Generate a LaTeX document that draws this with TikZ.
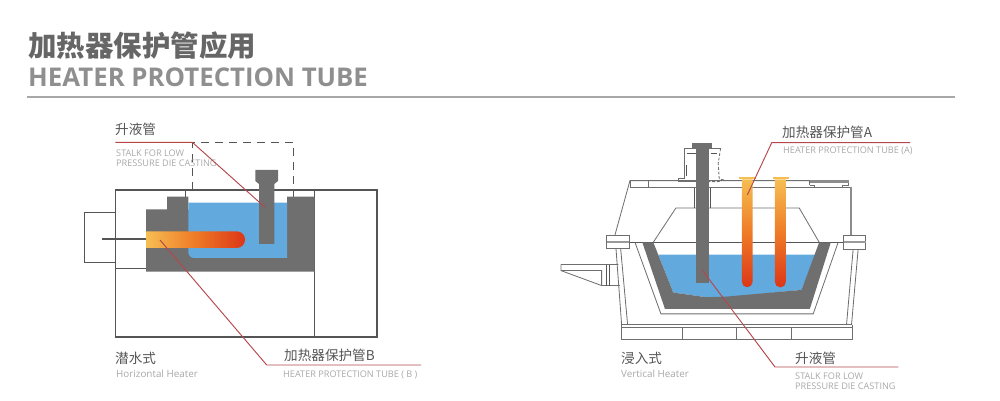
\documentclass[tikz,border=0pt]{standalone}
\usepackage{fontspec}
\setmainfont{Open Sans}
\newfontfamily\cjk{Noto Sans CJK SC}
\definecolor{ink}{HTML}{555555}
\definecolor{titleink}{HTML}{666666}
\definecolor{steel}{HTML}{6F6F6F}
\definecolor{melt}{HTML}{62A9DD}
\definecolor{leadred}{HTML}{B5474B}
\definecolor{soft}{HTML}{A8A8A8}
\definecolor{heatlow}{HTML}{F6BE52}
\definecolor{heatmid}{HTML}{EE7A26}
\definecolor{heathigh}{HTML}{DC3618}
\pgfdeclarehorizontalshading{heatb}{100bp}{color(0bp)=(heatlow); color(25bp)=(heatlow); color(50bp)=(heatmid); color(75bp)=(heathigh); color(100bp)=(heathigh)}
\pgfdeclareverticalshading{heata}{100bp}{color(0bp)=(heathigh); color(25bp)=(heathigh); color(50bp)=(heatmid); color(75bp)=(heatlow); color(100bp)=(heatlow)}
\tikzset{
    cntitle/.style={anchor=west, inner sep=0pt, text=titleink, font=\cjk\bfseries\fontsize{24.3}{26}\selectfont},
    entitle/.style={anchor=west, inner sep=0pt, text=soft!85!black, font=\bfseries\fontsize{22}{24}\selectfont},
    cnlabel/.style={anchor=west, inner sep=0pt, text=ink, font=\cjk\fontsize{11.6}{13}\selectfont},
    enlabel/.style={anchor=west, inner sep=0pt, text=soft, align=left, font=\fontsize{7.8}{8.6}\selectfont},
    hlabel/.style={anchor=west, inner sep=0pt, text=soft, font=\fontsize{8.4}{10}\selectfont},
    outline/.style={draw=ink, line width=0.9pt},
    shell/.style={draw=ink!85, line width=0.7pt},
    thinline/.style={draw=ink, line width=0.55pt},
    leader/.style={draw=leadred, line width=0.8pt}
}
\begin{document}
\begin{tikzpicture}[x=0.03cm, y=-0.03cm]
    \useasboundingbox (0,0) rectangle (1000,401);

    % Title
    \node[cntitle] (titlecn) at (28,46) {加热器保护管应用};
    \node[entitle] (titleen) at (28,77) {HEATER PROTECTION TUBE};
    \draw[soft, line width=0.9pt] (27,97) -- (955,97);

    % Horizontal heater
    \draw[outline] (115.3,190) rectangle (377,337);
    \draw[outline] (314.7,190) -- (314.7,337);
    \draw[outline] (115.3,212.3) -- (84.3,212.3) -- (84.3,262.7) -- (115.3,262.7);
    \draw[outline] (115.3,268.7) -- (146,268.7);
    \draw[outline] (185.7,190) -- (185.7,197);
    \draw[outline] (293.7,190) -- (293.7,197);
    \draw[outline, dashed, dash pattern=on 7pt off 5pt] (192.3,190) -- (192.3,142.3) -- (293.7,142.3) -- (293.7,190);
    \fill[steel] (146,209.3) -- (167,209.3) -- (167,196.7) -- (188.3,196.7) -- (188.3,210) -- (287,210)
        -- (287,196.7) -- (314.7,196.7) -- (314.7,271.7) -- (146,271.7) -- cycle;
    \fill[melt, rounded corners=5pt] (188.3,202.7) [sharp corners] -- (287,202.7) -- (287,258) [rounded corners=5pt] -- (188.3,258) -- (188.3,230) [sharp corners] -- cycle;
    \fill[steel] (255.3,170) -- (278,170) -- (278,181) -- (274.3,184) -- (274.3,244) -- (259,244) -- (259,184) -- (255.3,181) -- cycle;
    \draw[ink, line width=2pt] (102,239.3) -- (146,239.3);
    \shade[shading=heatb] (146,231.3) -- (236.7,231.3) arc[start angle=90, end angle=-90, radius=7.12pt] -- (146,248) -- cycle;

    % Vertical heater
    \begin{scope}[shift={(550,120)}, x=0.01cm, y=-0.01cm]
        \draw[shell] (33,434) -- (205,434) (33,434) -- (33,452) -- (155,452) -- (155,497) (33,452) -- (155,497) -- (210,497);
        \draw[outline] (170,434) -- (170,497) (178,434) -- (178,497);
        \draw[shell] (198,385) -- (215,615) (212,385) -- (233,615);
        \draw[shell] (925,387) -- (905,615) (910,387) -- (890,615);
        \draw[shell] (215,622) rectangle (907,658);
        \draw[shell] (215,615) -- (907,615) (215,615) -- (215,622) (907,615) -- (907,622);
        \draw[shell] (396,622) -- (396,658) (561,622) -- (561,658) (724,622) -- (724,658);
        % lid
        \draw[shell] (195,345) -- (240,182) -- (780,182);
        \draw[shell] (240,203) -- (760,203) (795,203) -- (880,203);
        \draw[shell] (240,182) -- (240,203) (295,182) -- (295,203) (780,182) -- (780,195);
        \fill[steel!80] (780,181) rectangle (897,188);
        \draw[shell] (760,203) -- (795,203) -- (795,195) -- (780,195) (878,195) -- (897,195) -- (897,188) (878,195) -- (878,203) -- (907,203);
        \fill[steel!80] (900,200) rectangle (907,347);
        \draw[shell] (310,367) -- (378,264) -- (748,264) -- (808,367);
        \draw[outline] (238,367) -- (885,367);
        \draw[thinline] (432,203) -- (432,264) (482,203) -- (482,264);
        % fitting of the stalk
        \draw[shell] (438,85) -- (404,85) -- (404,175) -- (385,175) -- (385,185) -- (438,185);
        \draw[thinline] (412,100) -- (438,100) (410,135) -- (410,168);
        \draw[shell] (476,85) -- (512,85);
        \draw[shell, dashed, dash pattern=on 2.5pt off 1.5pt] (512,85) -- (505,130) -- (508,178) -- (525,180) -- (505,185) -- (476,185);
        \draw[thinline] (482,100) -- (500,100);
        % crucible
        \draw[shell] (255,367) -- (333,582) -- (790,582) -- (865,367);
        \fill[melt] (325,404) -- (797,404) -- (755,510) -- (530,532) -- (470,532) -- (370,518) -- cycle;
        \fill[steel] (277,367) -- (345,567) -- (780,567) -- (843,367) -- (808,367) -- (755,510) -- (530,530)
            -- (470,532) -- (370,518) -- (310,367) -- cycle;
        % clamps
        \draw[shell, fill=white] (170,345) rectangle (238,385);
        \fill[steel!70] (170,362) rectangle (238,369);
        \draw[shell, fill=white] (882,347) rectangle (948,387);
        \fill[steel!70] (882,362) rectangle (948,369);
        % stalk and tubes
        \fill[steel] (427,69) rectangle (487,86);
        \fill[steel] (438,86) rectangle (476,490);
        \fill[heatlow] (568,170) rectangle (618,178);
        \fill[heatlow] (668,170) rectangle (718,178);
        \shade[shading=heata] (576,178) -- (608,178) -- (608,486) arc[start angle=0, end angle=-180, radius=4.55pt] -- cycle;
        \shade[shading=heata] (675,178) -- (708,178) -- (708,486) arc[start angle=0, end angle=-180, radius=4.7pt] -- cycle;
    \end{scope}

    % Labels
    \node[cnlabel] (stalkcnL) at (115,129) {升液管};
    \node[enlabel] (stalkenL) at (116,158) {STALK FOR LOW\\PRESSURE DIE CASTING};
    \node[cnlabel] (horizcn) at (115,358) {潜水式};
    \node[hlabel] (horizen) at (116,373.5) {Horizontal Heater};
    \node[cnlabel] (tubeBcn) at (284,355) {加热器保护管B};
    \node[enlabel] (tubeBen) at (283,374.5) {HEATER PROTECTION TUBE ( B )};
    \node[cnlabel] (tubeAcn) at (782,132) {加热器保护管A};
    \node[enlabel] (tubeAen) at (783,151) {HEATER PROTECTION TUBE (A)};
    \node[cnlabel] (stalkcnR) at (795,358) {升液管};
    \node[enlabel] (stalkenR) at (795,381) {STALK FOR LOW\\PRESSURE DIE CASTING};
    \node[cnlabel] (vertcn) at (621,358) {浸入式};
    \node[hlabel] (verten) at (621,373.5) {Vertical Heater};

    % Leaders
    \coordinate (stalkLstart) at (115.3,142.3);
    \coordinate (stalkLknee) at (192.3,142.3);
    \coordinate (stalkLtip) at (265,207.3);
    \coordinate (tubeBtip) at (160,240);
    \coordinate (tubeBknee) at (266.7,365);
    \coordinate (tubeBend) at (421,365);
    \coordinate (tubeAend) at (910,142.7);
    \coordinate (tubeAknee) at (771.7,142.7);
    \coordinate (tubeAtip) at (747.3,195);
    \coordinate (stalkRtip) at (702.7,270.7);
    \coordinate (stalkRknee) at (775,367);
    \coordinate (stalkRend) at (898.3,367);
    \draw[leader] (stalkLstart) -- (stalkLknee) -- (stalkLtip);
    \draw[leader] (tubeBtip) -- (tubeBknee) -- (tubeBend);
    \draw[leader] (tubeAend) -- (tubeAknee) -- (tubeAtip);
    \draw[leader] (stalkRtip) -- (stalkRknee) -- (stalkRend);
\end{tikzpicture}
\end{document}
